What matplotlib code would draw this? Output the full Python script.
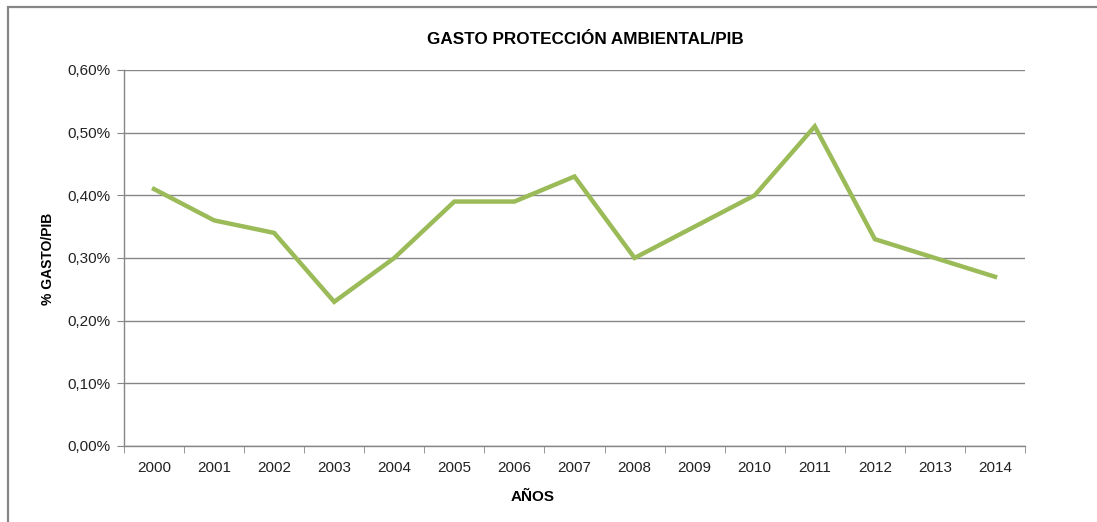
import matplotlib
matplotlib.use('Agg')
import matplotlib.pyplot as plt
import numpy as np
from matplotlib.patches import Rectangle
from matplotlib.ticker import FuncFormatter, FixedLocator

# Data
years = ['2000', '2001', '2002', '2003', '2004', '2005', '2006', '2007',
         '2008', '2009', '2010', '2011', '2012', '2013', '2014']
gasto_pib = [0.41, 0.36, 0.34, 0.23, 0.30, 0.39, 0.39, 0.43,
             0.30, 0.35, 0.40, 0.51, 0.33, 0.30, 0.27]
y_ticks = [0.0, 0.1, 0.2, 0.3, 0.4, 0.5, 0.6]

plt.rcParams['font.family'] = ['Liberation Sans', 'DejaVu Sans']

fig = plt.figure(figsize=(10.97, 5.22), dpi=100)
ax = fig.add_axes([0.113, 0.1456, 0.8214, 0.7204])

x = np.arange(len(years))
ax.plot(x, gasto_pib, color='#9BBB59', linewidth=3.2, solid_joinstyle='miter')

ax.set_xlim(-0.5, len(years) - 0.5)
ax.set_ylim(0, 0.6)
ax.set_yticks(y_ticks)
ax.yaxis.set_major_formatter(FuncFormatter(lambda v, p: f'{v:.2f}%'.replace('.', ',')))
ax.grid(axis='y', color='#868686', linewidth=1)
ax.set_axisbelow(True)

ax.set_xticks(x)
ax.set_xticklabels(years)
ax.xaxis.set_minor_locator(FixedLocator(np.arange(-0.5, len(years), 1)))
ax.tick_params(axis='x', which='major', length=0, pad=10.5, labelsize=11, colors='#222222')
ax.tick_params(axis='x', which='minor', length=5, color='#868686', direction='out')
ax.tick_params(axis='y', length=5, color='#868686', labelsize=11, colors='#222222', pad=5)

for s in ['top', 'right']:
    ax.spines[s].set_visible(False)
for s in ['left', 'bottom']:
    ax.spines[s].set_color('#868686')
    ax.spines[s].set_linewidth(1)

# titles placed as in the reference
fig.text(585 / 1097, 1 - 40 / 522, 'GASTO PROTECCIÓN AMBIENTAL/PIB',
         fontsize=12.3, fontweight='bold', ha='center', va='center')
fig.text(533 / 1097, 1 - 497 / 522, 'AÑOS',
         fontsize=11, fontweight='bold', ha='center', va='center')
fig.text(48.5 / 1097, 1 - 258.5 / 522, '% GASTO/PIB', rotation=90,
         fontsize=10, fontweight='bold', ha='center', va='center')

# outer chart border (cropped on right and bottom)
fig.patches.append(Rectangle((8 / 1097, -0.05), 1.2, 1 - 7 / 522 + 0.05,
                             transform=fig.transFigure, fill=False,
                             edgecolor='#868686', linewidth=1.6, clip_on=False))

fig.savefig('out.png', dpi=100)
